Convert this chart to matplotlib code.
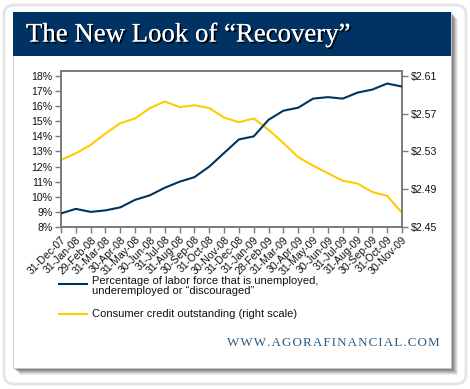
import matplotlib
matplotlib.use("Agg")
import matplotlib.pyplot as plt
from matplotlib.patches import FancyBboxPatch, Rectangle
import matplotlib.patheffects as pe

dates = ["31-Dec-07", "31-Jan-08", "29-Feb-08", "31-Mar-08", "30-Apr-08", "31-May-08",
         "30-Jun-08", "31-Jul-08", "31-Aug-08", "30-Sep-08", "31-Oct-08", "30-Nov-08",
         "31-Dec-08", "31-Jan-09", "28-Feb-09", "31-Mar-09", "30-Apr-09", "31-May-09",
         "30-Jun-09", "31-Jul-09", "31-Aug-09", "30-Sep-09", "31-Oct-09", "30-Nov-09"]

underemployed = [8.9, 9.2, 9.0, 9.1, 9.3, 9.8, 10.1, 10.6, 11.0, 11.3, 12.0, 12.9,
                 13.8, 14.0, 15.1, 15.7, 15.9, 16.5, 16.6, 16.5, 16.9, 17.1, 17.5, 17.3]

credit = [2.521, 2.528, 2.537, 2.549, 2.560, 2.565, 2.576, 2.583, 2.577, 2.579, 2.576, 2.566,
          2.561, 2.565, 2.553, 2.539, 2.524, 2.515, 2.507, 2.499, 2.496, 2.487, 2.483, 2.465]

left_ticks = list(range(8, 19))
right_ticks = [2.45, 2.49, 2.53, 2.57, 2.61]

NAVY = "#00335f"
GOLD = "#ffcc00"
GREY = "#7a7a7a"

plt.rcParams["font.family"] = ["Liberation Sans", "DejaVu Sans"]

W, H = 470, 389
fig = plt.figure(figsize=(W / 100, H / 100), dpi=100)
bg = fig.add_axes([0, 0, 1, 1])
bg.set_xlim(0, W)
bg.set_ylim(H, 0)
bg.axis("off")
bg.set_zorder(0)

# outer soft frame
bg.add_patch(FancyBboxPatch((4, 5), W - 8, H - 10, boxstyle="round,pad=0,rounding_size=10",
                            fc="white", ec="#e4e4e4", lw=2.0))
# card shadow
for i, a in enumerate([0.10, 0.14, 0.18, 0.24, 0.30, 0.38]):
    off = 7 - i
    bg.add_patch(Rectangle((13 + off, 12 + off), 438, 356, fc="#606060", ec="none", alpha=a))
bg.add_patch(Rectangle((13, 12), 438, 356, fc="white", ec="#c8c8c8", lw=0.6))
bg.add_patch(Rectangle((13, 12), 438, 44, fc="#003263", ec="none"))
bg.text(26, 35, "The New Look of \u201cRecovery\u201d", family=["Liberation Serif", "DejaVu Serif"],
        fontsize=19.3, color="white", ha="left", va="center",
        path_effects=[pe.withSimplePatchShadow(offset=(1.3, -1.3), shadow_rgbFace="black", alpha=1.0),
                      pe.Normal()])

bg.text(440, 343, "W W W . A G O R A F I N A N C I A L . C O M".replace(" ", "\u200a"),
        family=["Liberation Serif", "DejaVu Serif"],
        fontsize=9.4, color="#2a5a80", ha="right", va="center")

# legend
bg.plot([58, 88], [283.5, 283.5], color=NAVY, lw=1.5, solid_capstyle="butt")
bg.plot([58, 88], [314, 314], color=GOLD, lw=1.5, solid_capstyle="butt")
bg.text(92, 286, "Percentage of labor force that is unemployed,\nunderemployed or \u201cdiscouraged\u201d",
        fontsize=8.0, color="#111111", ha="left", va="center", linespacing=1.1)
bg.text(92, 314, "Consumer credit outstanding (right scale)", fontsize=8.0, color="#111111",
        ha="left", va="center")

ax = fig.add_axes([61 / W, 1 - 227 / H, (402 - 61) / W, (227 - 71) / H])
ax.set_zorder(2)
x = list(range(len(dates)))
ax.plot(x, underemployed, color=NAVY, lw=1.5, zorder=3)
ax.set_xlim(0, len(dates) - 1)
ax.set_ylim(8, 18.33)
ax.set_yticks(left_ticks)
ax.set_yticklabels([f"{t}%" for t in left_ticks])
ax.set_xticks(x)
ax.set_xticklabels(dates, rotation=45, ha="right", va="top", rotation_mode="anchor")

ax2 = ax.twinx()
ax2.set_zorder(1)
ax2.plot(x, credit, color=GOLD, lw=1.5, zorder=2)
ax2.set_ylim(2.45, 2.61 + 0.16 * 0.033)
ax2.set_yticks(right_ticks)
ax2.set_yticklabels([f"${t:.2f}" for t in right_ticks])
ax.patch.set_visible(False)

for a in (ax, ax2):
    for s in a.spines.values():
        s.set_color(GREY)
        s.set_linewidth(1.2)
    a.tick_params(colors=GREY, labelcolor="#111111", labelsize=7.6, length=4, width=1.0, pad=2)
ax.tick_params(axis="x", pad=1.5)

fig.savefig("out.png", dpi=100, facecolor="white")
